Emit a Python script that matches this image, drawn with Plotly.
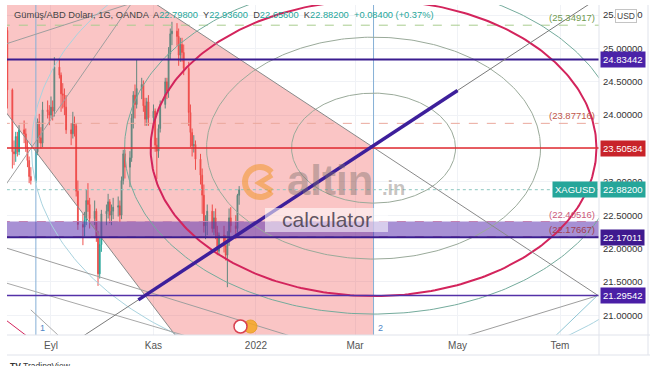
import numpy as np
import pandas as pd
import plotly.graph_objects as go

# ---------------- candle data (XAGUSD daily, OANDA) ----------------
dates = ["2021-08-05","2021-08-06","2021-08-09","2021-08-10","2021-08-11","2021-08-12","2021-08-13",
         "2021-08-16","2021-08-17","2021-08-18","2021-08-19","2021-08-20","2021-08-23","2021-08-24",
         "2021-08-25","2021-08-26","2021-08-27","2021-08-30","2021-08-31","2021-09-01","2021-09-02",
         "2021-09-03","2021-09-06","2021-09-07","2021-09-08","2021-09-09","2021-09-10","2021-09-13",
         "2021-09-14","2021-09-15","2021-09-16","2021-09-17","2021-09-20","2021-09-21","2021-09-22",
         "2021-09-23","2021-09-24","2021-09-27","2021-09-28","2021-09-29","2021-09-30","2021-10-01",
         "2021-10-04","2021-10-05","2021-10-06","2021-10-07","2021-10-08","2021-10-11","2021-10-12",
         "2021-10-13","2021-10-14","2021-10-15","2021-10-18","2021-10-19","2021-10-20","2021-10-21",
         "2021-10-22","2021-10-25","2021-10-26","2021-10-27","2021-10-28","2021-10-29","2021-11-01",
         "2021-11-02","2021-11-03","2021-11-04","2021-11-05","2021-11-08","2021-11-09","2021-11-10",
         "2021-11-11","2021-11-12","2021-11-15","2021-11-16","2021-11-17","2021-11-18","2021-11-19",
         "2021-11-22","2021-11-23","2021-11-24","2021-11-25","2021-11-26","2021-11-29","2021-11-30",
         "2021-12-01","2021-12-02","2021-12-03","2021-12-06","2021-12-07","2021-12-08","2021-12-09",
         "2021-12-10","2021-12-13","2021-12-14","2021-12-15","2021-12-16","2021-12-17","2021-12-20",
         "2021-12-21","2021-12-22"]
opens = [25.55,25.27,24.38,23.45,23.42,23.68,23.45,23.78,23.72,23.52,23.32,23.08,23.02,23.45,
         23.90,23.66,23.58,24.08,24.05,24.00,24.12,24.06,24.72,24.60,24.32,24.30,24.12,23.78,
         23.72,23.88,23.84,22.86,22.36,22.32,22.42,22.72,22.66,22.45,22.56,22.18,21.62,22.06,
         22.52,22.56,22.70,22.50,22.56,22.62,22.64,22.50,23.02,23.42,23.22,23.36,23.96,24.30,
         24.16,24.40,24.46,24.14,23.94,24.20,23.96,24.06,23.55,23.46,23.80,24.16,24.50,24.36,
         24.92,25.22,25.26,25.18,24.90,25.06,24.94,24.70,24.04,23.74,23.54,23.56,23.34,23.10,
         22.80,22.34,22.40,22.56,22.30,22.46,22.24,21.96,22.20,22.04,21.90,22.10,22.46,22.34,
         22.30,22.798]
highs = [25.62,25.32,24.40,23.62,23.75,23.75,23.85,23.92,23.80,23.62,23.38,23.22,23.52,23.95,
         24.02,23.82,24.20,24.22,24.15,24.28,24.22,24.87,24.86,24.64,24.48,24.40,24.30,23.88,
         24.05,23.98,23.88,23.02,22.52,22.55,22.88,22.98,22.76,22.72,22.60,22.26,22.18,22.58,
         22.66,22.82,22.74,22.66,22.76,22.78,22.72,23.08,23.48,23.48,23.46,24.02,24.36,24.46,
         24.83,24.56,24.52,24.26,24.26,24.30,24.16,24.10,23.66,23.86,24.22,24.56,24.56,25.02,
         25.30,25.40,25.38,25.30,25.16,25.16,25.06,24.80,24.16,23.80,23.70,23.62,23.42,23.20,
         22.96,22.50,22.66,22.66,22.56,22.60,22.34,22.24,22.34,22.20,22.26,22.60,22.62,22.50,
         22.82,22.936]
lows = [25.15,24.10,23.20,23.25,23.30,23.38,23.40,23.58,23.45,23.22,22.98,22.96,22.98,23.40,
        23.58,23.50,23.52,23.95,23.85,23.95,23.92,23.98,24.55,24.05,24.10,24.00,23.72,23.55,
        23.65,23.68,22.78,22.28,22.05,22.18,22.35,22.55,22.30,22.35,22.10,21.44,21.55,21.95,
        22.35,22.45,22.38,22.35,22.44,22.48,22.40,22.44,22.96,23.05,22.92,23.30,23.80,23.95,
        24.10,24.24,24.05,23.84,23.84,23.84,23.84,23.45,23.04,23.36,23.74,24.10,24.24,24.26,
        24.84,25.05,25.04,24.74,24.80,24.80,24.60,23.84,23.52,23.38,23.44,23.18,22.96,22.52,
        22.24,22.14,22.20,22.24,22.20,22.14,21.90,21.90,21.94,21.82,21.42,22.04,22.24,22.14,
        22.24,22.656]
closes = [25.27,24.38,23.45,23.42,23.68,23.45,23.78,23.72,23.52,23.32,23.08,23.02,23.45,23.90,
          23.66,23.58,24.08,24.05,24.00,24.12,24.06,24.72,24.60,24.32,24.30,24.12,23.78,23.72,
          23.88,23.84,22.86,22.36,22.32,22.42,22.72,22.66,22.45,22.56,22.18,21.62,22.06,22.52,
          22.56,22.70,22.50,22.56,22.62,22.64,22.50,23.02,23.42,23.22,23.36,23.96,24.30,24.16,
          24.40,24.46,24.14,23.94,24.20,23.96,24.06,23.55,23.46,23.80,24.16,24.50,24.36,24.92,
          25.22,25.26,25.18,24.90,25.06,24.94,24.70,24.04,23.74,23.54,23.56,23.34,23.10,22.80,
          22.34,22.40,22.56,22.30,22.46,22.24,21.96,22.20,22.04,21.90,22.10,22.46,22.34,22.30,
          22.798,22.882]

# ---------------- axes ----------------
X_RANGE = ["2021-08-05 19:30", "2022-07-24 05:00"]
Y_RANGE = [20.703, 25.652]
TICK_DATES = ["2021-09-01", "2021-11-01", "2022-01-01", "2022-03-01", "2022-05-01", "2022-07-01"]
TICK_TEXT = ["Eyl", "Kas", "2022", "Mar", "May", "Tem"]
Y_TICKS = [21.0, 21.5, 22.0, 22.5, 23.0, 23.5, 24.0, 24.5, 25.0, 25.5]

# ---------------- drawing objects (in date / price units) ----------------
LEVELS = [24.83442, 23.50584, 22.17011, 21.29542]
LEVEL_LINE_COLORS = ["#3a1c8f", "#e0282e", "#3a1c8f", "#5331a8"]
LEVEL_WIDTHS = [2, 1.5, 2, 1.5]
LEVEL_TAG_COLORS = ["#4a22a8", "#c8232a", "#3f1a8f", "#4a1fa6"]

FIB_LEVELS = [25.34917, 23.87716, 22.40516, 22.17667, 20.65466]
FIB_LINE_COLORS = ["#a9cc8e", "#eaa89c", "#e7a0b4", "#d88090", "#6aafbf"]
FIB_TEXT_COLORS = ["#6f9a50", "#c0574a", "#cc5a7a", "#a04050", "#3e8aa0"]
BAND = [22.17667, 22.40516]
LAST_PRICE = 22.882

CENTER_DATE = "2022-03-12"
CENTER_PRICE = 23.50584
ELLIPSE_DAYS = [48.8, 99.4, 132.7, 148.2, 203.6]
ELLIPSE_PRICE = [0.825, 1.664, 2.219, 2.489, 3.418]
ELLIPSE_COLORS = ["#9aaa9a", "#9aaa9a", "#d3245c", "#74ab9c", "#a9d3df"]
ELLIPSE_WIDTHS = [1, 1, 2, 1, 1]

VLINE_DATES = ["2021-08-23", "2022-03-12"]
VLINE_LABELS = ["1", "2"]

TREND = [("2021-10-23", 21.23), ("2022-05-01", 24.37)]
DIAG_DOWN = [("2021-11-04", 25.64), ("2022-07-24", 21.29)]
PINK_EDGE = [("2021-08-05", 24.05), ("2021-11-14", 20.70)]
EXTRA_LINES = [
    [("2021-08-05", 25.067), ("2021-10-19", 25.68), "#9e9e9e"],
    [("2021-08-05", 22.953), ("2021-10-19", 25.68), "#9e9e9e"],
    [("2021-08-05", 22.01), ("2022-01-20", 20.70), "#9e9e9e"],
    [("2021-08-05", 21.485), ("2021-11-19", 20.70), "#a8a8a8"],
    [("2022-07-23", 21.29), ("2022-05-12", 20.735), "#9e9e9e"],
    [("2022-07-23", 21.29), ("2022-07-02", 20.78), "#8fc6d4"],
    [("2021-08-05", 20.93), ("2021-08-17", 20.70), "#d3245c"],
    [("2021-08-20", 21.08), ("2021-09-04", 20.73), "#a8a8a8"],
]

# ---------------- geometry helpers ----------------
FIG_W, FIG_H = 654, 366
M_L, M_R, M_T, M_B = 7, 55, 5, 31
T0 = pd.Timestamp("2021-01-01")


def to_days(d):
    return (pd.Timestamp(d) - T0) / pd.Timedelta(days=1)


def from_days(x):
    return T0 + pd.Timedelta(days=float(x))


def price_on(seg, d):
    (d1, p1), (d2, p2) = seg[0], seg[1]
    t1, t2 = to_days(d1), to_days(d2)
    return p1 + (p2 - p1) * (to_days(d) - t1) / (t2 - t1)


def date_on(seg, p):
    (d1, p1), (d2, p2) = seg[0], seg[1]
    t1, t2 = to_days(d1), to_days(d2)
    return from_days(t1 + (t2 - t1) * (p - p1) / (p2 - p1))


def pxx(px):
    return (px - M_L) / (FIG_W - M_L - M_R)


def pxy(py):
    return (FIG_H - M_B - py) / (FIG_H - M_T - M_B)


FAR_L, FAR_R = "2021-07-01", "2022-09-01"

fig = go.Figure()

# pink region
poly_x = [FAR_L, date_on(DIAG_DOWN, 27.0), CENTER_DATE, CENTER_DATE, date_on(PINK_EDGE, 19.5), FAR_L]
poly_y = [27.0, 27.0, price_on(DIAG_DOWN, CENTER_DATE), 19.5, 19.5, price_on(PINK_EDGE, FAR_L)]
fig.add_trace(go.Scatter(x=poly_x, y=poly_y, fill="toself", fillcolor="rgba(240,62,62,0.30)",
                         mode="lines", line=dict(width=0), hoverinfo="skip"))

# vertical lines
for d in VLINE_DATES:
    fig.add_trace(go.Scatter(x=[d, d], y=[19, 27], mode="lines",
                             line=dict(color="#86b0d6", width=1), hoverinfo="skip"))

# fib dashed levels + last price line
for p, c in zip(FIB_LEVELS, FIB_LINE_COLORS):
    fig.add_trace(go.Scatter(x=[FAR_L, FAR_R], y=[p, p], mode="lines",
                             line=dict(color=c, width=1, dash="dash"), hoverinfo="skip"))
fig.add_trace(go.Scatter(x=[FAR_L, FAR_R], y=[LAST_PRICE, LAST_PRICE], mode="lines",
                         line=dict(color="#8cc7c0", width=1, dash="dot"), hoverinfo="skip"))

# candles
fig.add_trace(go.Candlestick(x=dates, open=opens, high=highs, low=lows, close=closes,
                             increasing=dict(line=dict(color="#26a69a", width=1), fillcolor="#26a69a"),
                             decreasing=dict(line=dict(color="#ef5350", width=1), fillcolor="#ef5350"),
                             whiskerwidth=0, hoverinfo="skip"))

# purple band
fig.add_trace(go.Scatter(x=[FAR_L, FAR_R, FAR_R, FAR_L], y=[BAND[0], BAND[0], BAND[1], BAND[1]],
                         fill="toself", fillcolor="rgba(94,53,177,0.55)", mode="lines",
                         line=dict(width=0), hoverinfo="skip"))

# ellipses
theta = np.linspace(0, 2 * np.pi, 361)
tc = to_days(CENTER_DATE)
for a, b, c, w in zip(ELLIPSE_DAYS, ELLIPSE_PRICE, ELLIPSE_COLORS, ELLIPSE_WIDTHS):
    ex = [from_days(tc + a * np.cos(t)) for t in theta]
    ey = CENTER_PRICE + b * np.sin(theta)
    fig.add_trace(go.Scatter(x=ex, y=ey, mode="lines", line=dict(color=c, width=w), hoverinfo="skip"))

# thin grey lines
for seg in [DIAG_DOWN, PINK_EDGE]:
    fig.add_trace(go.Scatter(x=[FAR_L, FAR_R], y=[price_on(seg, FAR_L), price_on(seg, FAR_R)],
                             mode="lines", line=dict(color="#8a8a8a", width=1), hoverinfo="skip"))
for s in EXTRA_LINES:
    seg = s[:2]
    d1, d2 = to_days(seg[0][0]), to_days(seg[1][0])
    ext = [from_days(d1 - 0.0 * (d2 - d1)), from_days(d2 + 1.5 * (d2 - d1))]
    fig.add_trace(go.Scatter(x=ext, y=[price_on(seg, e) for e in ext], mode="lines",
                             line=dict(color=s[2], width=1), hoverinfo="skip"))

# horizontal levels
for p, c, w in zip(LEVELS, LEVEL_LINE_COLORS, LEVEL_WIDTHS):
    fig.add_trace(go.Scatter(x=[FAR_L, FAR_R], y=[p, p], mode="lines",
                             line=dict(color=c, width=w), hoverinfo="skip"))

# trend line: thin extension + thick segment
fig.add_trace(go.Scatter(x=[FAR_L, FAR_R], y=[price_on(TREND, FAR_L), price_on(TREND, FAR_R)],
                         mode="lines", line=dict(color="#7a7a7a", width=1), hoverinfo="skip"))
fig.add_trace(go.Scatter(x=[TREND[0][0], TREND[1][0]], y=[TREND[0][1], TREND[1][1]],
                         mode="lines", line=dict(color="#3d1f9b", width=3.5), hoverinfo="skip"))

FONT = "Liberation Sans, Arial, sans-serif"
ann = []
shapes = []

# price tags on the right axis
for p, c in zip(LEVELS, LEVEL_TAG_COLORS):
    ann.append(dict(x=1, xref="paper", xanchor="left", xshift=1, y=p, yref="y", yanchor="middle",
                    text=f"{p:.5f}", showarrow=False, bgcolor=c, borderpad=2,
                    font=dict(color="white", size=9.5, family=FONT)))
ann.append(dict(x=1, xref="paper", xanchor="left", xshift=1, y=LAST_PRICE, yref="y", yanchor="middle",
                text=f"{closes[-1]:.5f}", showarrow=False, bgcolor="#26a69a", borderpad=2,
                font=dict(color="white", size=9.5, family=FONT)))
ann.append(dict(x=1, xref="paper", xanchor="right", xshift=-1, y=LAST_PRICE, yref="y", yanchor="middle",
                text="XAGUSD", showarrow=False, bgcolor="#26a69a", borderpad=2,
                font=dict(color="white", size=9.5, family=FONT)))
ann.append(dict(x=pxx(626), xref="paper", xanchor="center", y=pxy(16), yref="paper", yanchor="middle",
                text="USD", showarrow=False, bgcolor="white", bordercolor="#c4c4c4", borderwidth=1,
                borderpad=1, font=dict(color="#444", size=8.5, family=FONT)))

# fib labels
for p, c in zip(FIB_LEVELS, FIB_TEXT_COLORS):
    ann.append(dict(x=pxx(597), xref="paper", xanchor="right", y=p, yref="y", yanchor="bottom",
                    text=f"({p:.5f})", showarrow=False, font=dict(color=c, size=9.5, family=FONT)))

# vertical line labels
for d, lab in zip(VLINE_DATES, VLINE_LABELS):
    ann.append(dict(x=d, xref="x", xanchor="left", xshift=2, y=pxy(328), yref="paper", yanchor="middle",
                    text=lab, showarrow=False, font=dict(color="#4f86c6", size=9, family=FONT)))

# legend line
chg = closes[-1] - closes[-2]
pct = chg / closes[-2] * 100
teal = "#26a69a"
legend_txt = ("<span style='color:#444'>Gümüş/ABD Doları, 1G, OANDA</span>  "
              f"<span style='color:#444'>A</span><span style='color:{teal}'>{opens[-1]:.5f}</span>  "
              f"<span style='color:#444'>Y</span><span style='color:{teal}'>{highs[-1]:.5f}</span>  "
              f"<span style='color:#444'>D</span><span style='color:{teal}'>{lows[-1]:.5f}</span>  "
              f"<span style='color:#444'>K</span><span style='color:{teal}'>{closes[-1]:.5f}</span>  "
              f"<span style='color:{teal}'>{chg:+.5f} ({pct:+.2f}%)</span>")
ann.append(dict(x=pxx(12), xref="paper", xanchor="left", y=pxy(15), yref="paper", yanchor="middle",
                text=legend_txt, showarrow=False, font=dict(size=9.3, family=FONT)))

# watermark
ann.append(dict(x=pxx(285), xref="paper", xanchor="left", y=pxy(180), yref="paper", yanchor="middle",
                text="<b>altin</b>", showarrow=False,
                font=dict(size=42, color="rgba(120,110,105,0.42)", family=FONT)))
ann.append(dict(x=pxx(380), xref="paper", xanchor="left", y=pxy(188), yref="paper", yanchor="middle",
                text="<b>.in</b>", showarrow=False,
                font=dict(size=20, color="rgba(120,110,105,0.42)", family=FONT)))
shapes.append(dict(type="rect", xref="paper", yref="paper", x0=pxx(265), x1=pxx(388),
                   y0=pxy(232), y1=pxy(208), fillcolor="rgba(255,255,255,0.55)", line=dict(width=0),
                   layer="above"))
ann.append(dict(x=pxx(327), xref="paper", xanchor="center", y=pxy(219), yref="paper", yanchor="middle",
                text="calculator", showarrow=False,
                font=dict(size=21, color="rgba(70,60,75,0.85)", family=FONT)))
# logo icon
ang = np.linspace(np.radians(40), np.radians(320), 30)
pts = [(260 + 15 * np.cos(a_), 182 - 15 * np.sin(a_)) for a_ in ang]
path = "M " + " L ".join(f"{pxx(x):.4f},{pxy(y):.4f}" for x, y in pts)
shapes.append(dict(type="path", xref="paper", yref="paper", path=path,
                   line=dict(color="rgba(240,150,40,0.55)", width=6), layer="above"))
chev = [(272, 175), (259, 183), (272, 191)]
shapes.append(dict(type="path", xref="paper", yref="paper",
                   path="M " + " L ".join(f"{pxx(x):.4f},{pxy(y):.4f}" for x, y in chev),
                   line=dict(color="rgba(240,150,40,0.55)", width=5), layer="above"))
# small coin icon at bottom
shapes.append(dict(type="circle", xref="paper", yref="paper", x0=pxx(244), x1=pxx(257),
                   y0=pxy(333), y1=pxy(320), fillcolor="rgba(245,166,35,0.85)",
                   line=dict(color="#e8a030", width=1), layer="above"))
shapes.append(dict(type="circle", xref="paper", yref="paper", x0=pxx(234), x1=pxx(247),
                   y0=pxy(333), y1=pxy(320), fillcolor="white",
                   line=dict(color="#d84050", width=1.5), layer="above"))

# frame lines
shapes.append(dict(type="line", xref="paper", yref="paper", x0=0, x1=pxx(650), y0=0, y1=0,
                   line=dict(color="#e0e3eb", width=1), layer="above"))
shapes.append(dict(type="line", xref="paper", yref="paper", x0=0, x1=pxx(650), y0=pxy(355), y1=pxy(355),
                   line=dict(color="#e0e3eb", width=1), layer="above"))
shapes.append(dict(type="line", xref="paper", yref="paper", x0=1, x1=1, y0=pxy(355), y1=1,
                   line=dict(color="#e0e3eb", width=1), layer="above"))
shapes.append(dict(type="line", xref="paper", yref="paper", x0=pxx(648), x1=pxx(648), y0=pxy(355), y1=1,
                   line=dict(color="#e0e3eb", width=1), layer="above"))

# TradingView footer
ann.append(dict(x=pxx(8), xref="paper", xanchor="left", y=pxy(359), yref="paper", yanchor="top",
                text="<b>TV</b> TradingView", showarrow=False,
                font=dict(size=8.5, color="#333", family=FONT)))

fig.update_layout(
    width=FIG_W, height=FIG_H,
    margin=dict(l=M_L, r=M_R, t=M_T, b=M_B),
    paper_bgcolor="white", plot_bgcolor="white",
    showlegend=False,
    annotations=ann, shapes=shapes,
    xaxis=dict(type="date", range=X_RANGE, tickvals=TICK_DATES, ticktext=TICK_TEXT,
               showgrid=True, gridcolor="#f0f2f6", zeroline=False, showline=False, ticks="",
               tickfont=dict(size=10, color="#555", family=FONT), rangeslider=dict(visible=False),
               ticklabelstandoff=3, fixedrange=True),
    yaxis=dict(range=Y_RANGE, side="right", tickvals=Y_TICKS, ticktext=[f"{v:.5f}" for v in Y_TICKS],
               showgrid=True, gridcolor="#f0f2f6", zeroline=False, showline=False, ticks="",
               tickfont=dict(size=9.5, color="#333", family=FONT), ticklabelstandoff=3, fixedrange=True),
)

fig.write_html("out.html")
